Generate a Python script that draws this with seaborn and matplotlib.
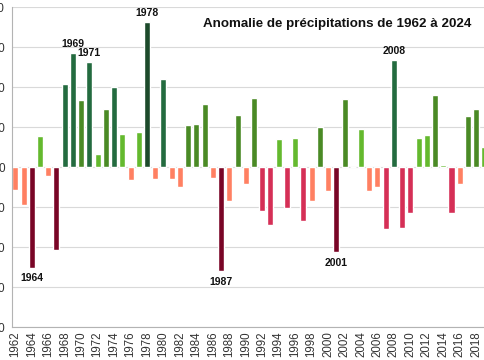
import matplotlib
matplotlib.use('Agg')
import matplotlib.pyplot as plt
import seaborn as sns
import pandas as pd

# anomalies (1962 -> 2019, le reste est hors cadre)
years = list(range(1962, 2020))
anomalies = [
    -57, -94, -252, 77, -22, -207, 208, 285, 168, 263,   # 1962-1971
    32, 146, 201, 82, -33, 87, 363, -31, 220, -29,       # 1972-1981
    -51, 104, 108, 158, -27, -260, -86, 131, -42, 173,   # 1982-1991
    -111, -144, 70, -102, 73, -136, -84, 100, -61, -213, # 1992-2001
    170, 0, 95, -61, -51, -156, 268, -153, -114, 73,     # 2002-2011
    81, 180, 4, -116, -43, 128, 146, 51,                 # 2012-2019
]
labels_top = [1969, 1971, 1978, 2008]
labels_bottom = [1964, 1987, 2001]
title = "Anomalie de précipitations de 1962 à 2024"


def bar_color(v):
    if v > 300:
        return '#1c4a2b'
    if v > 200:
        return '#236b3f'
    if v >= 100:
        return '#4a8a25'
    if v >= 0:
        return '#64b92e'
    if v > -100:
        return '#ff8062'
    if v > -200:
        return '#d52f56'
    return '#790526'


data = pd.DataFrame({'annee': [str(y) for y in years], 'anomalie': anomalies})
colors = [bar_color(v) for v in anomalies]

sns.set_theme(style='white')
plt.rcParams['font.family'] = ['Liberation Sans', 'DejaVu Sans']

fig = plt.figure(figsize=(4.85, 3.6), dpi=100)
ax = fig.add_axes([12 / 485, 33 / 360, 473 / 485, 320 / 360])

sns.barplot(data=data, x='annee', y='anomalie', hue='annee', palette=colors,
            saturation=1, width=0.73, legend=False, ax=ax)

ax.set_xlim(-0.40, 57.07)
ax.set_ylim(-400, 400)
ax.set_yticks(range(-400, 401, 100))
ax.set_yticklabels([str(v) for v in range(-400, 401, 100)], fontsize=8.5, color='#333333')
ax.set_xticks(range(0, len(years), 2))
ax.set_xticklabels([str(y) for y in years[::2]], rotation=90, fontsize=8.3, color='#333333')
ax.tick_params(axis='both', length=0)
ax.tick_params(axis='y', pad=5)
ax.tick_params(axis='x', pad=3)
ax.set_xlabel('')
ax.set_ylabel('')
ax.grid(axis='y', color='#d9d9d9', linewidth=0.8)
ax.set_axisbelow(True)
for side in ['top', 'right']:
    ax.spines[side].set_visible(False)
for side in ['left', 'bottom']:
    ax.spines[side].set_color('#b3b3b3')
    ax.spines[side].set_linewidth(0.8)

for y in labels_top:
    i = years.index(y)
    ax.annotate(str(y), (i, anomalies[i]), xytext=(0, 3), textcoords='offset points',
                ha='center', va='bottom', fontsize=7.5, fontweight='bold', color='#111111')
for y in labels_bottom:
    i = years.index(y)
    ax.annotate(str(y), (i, anomalies[i]), xytext=(0, -4), textcoords='offset points',
                ha='center', va='top', fontsize=7.5, fontweight='bold', color='#111111')

fig.text(337 / 485, 1 - 24.5 / 360, title, ha='center', va='center',
         fontsize=9.6, fontweight='bold', color='#111111')

fig.savefig('out.png', dpi=100)
